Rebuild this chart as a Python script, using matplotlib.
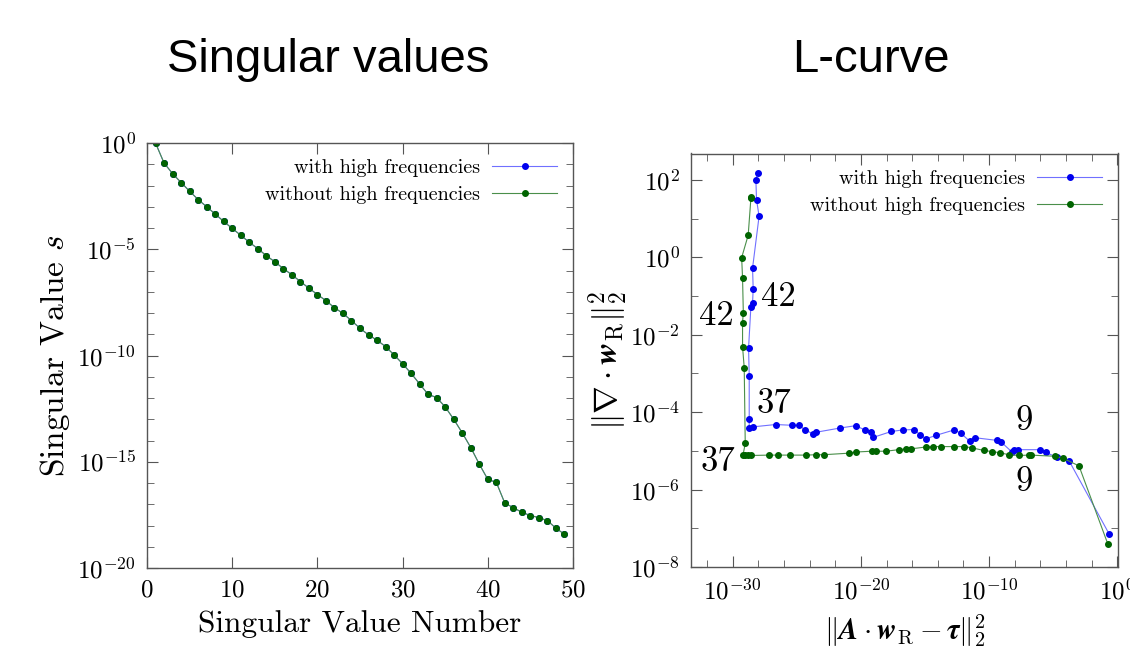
import numpy as np
import matplotlib
matplotlib.use("Agg")
import matplotlib.pyplot as plt
from matplotlib.ticker import FixedLocator, NullFormatter

plt.rcParams['mathtext.fontset'] = 'cm'
plt.rcParams['font.family'] = ['cmr10', 'DejaVu Serif']
plt.rcParams['axes.formatter.use_mathtext'] = True

# singular values, log10 of s for n = 1..49
sv_number = np.arange(1, 50)
log_sv = [0.0, -0.94, -1.44, -1.86, -2.27, -2.66, -3.0, -3.34, -3.69, -4.02,
          -4.34, -4.67, -4.97, -5.30, -5.59, -5.91, -6.20, -6.52, -6.83, -7.13,
          -7.42, -7.75, -8.02, -8.36, -8.72, -9.03, -9.28, -9.58, -9.97, -10.39,
          -10.84, -11.34, -11.83, -11.98, -12.42, -13.0, -13.64, -14.33, -15.11, -15.83,
          -15.97, -16.95, -17.16, -17.38, -17.53, -17.63, -17.77, -18.13, -18.41]
sv_with = 10.0 ** np.array(log_sv)
sv_without = 10.0 ** np.array(log_sv)

# L-curve, log10 residual norm (x) and log10 regularisation norm (y)
lx_with = [-0.62, -3.76, -4.74, -5.59, -6.03, -7.76, -8.04, -8.22, -9.07, -9.38,
           -11.13, -11.52, -12.22, -12.73, -14.15, -14.92, -15.39, -15.88, -16.73, -17.63,
           -19.02, -19.23, -19.69, -20.41, -21.62, -23.5, -23.76, -24.33, -24.85, -25.36,
           -26.65, -28.4, -28.71, -28.71, -28.71, -28.76, -28.58, -28.45, -28.40, -28.45,
           -27.94, -28.14, -28.19, -28.06]
ly_with = [-7.16, -5.26, -5.16, -5.04, -4.97, -4.97, -4.99, -5.03, -4.77, -4.73,
           -4.66, -4.75, -4.54, -4.46, -4.60, -4.69, -4.58, -4.45, -4.46, -4.50,
           -4.65, -4.52, -4.46, -4.35, -4.41, -4.52, -4.56, -4.46, -4.34, -4.34,
           -4.32, -4.38, -4.41, -4.19, -3.06, -2.34, -1.28, -1.19, -0.81, -0.28,
           1.06, 1.49, 2.0, 2.17]

lx_without = [-0.75, -2.99, -4.23, -4.87, -6.75, -6.91, -7.66, -8.48, -9.12, -9.77,
              -10.41, -11.37, -11.96, -12.73, -13.76, -14.4, -14.92, -16.13, -16.5, -17.06,
              -18.07, -18.84, -19.17, -20.4, -20.93, -22.9, -23.5, -24.25, -25.54, -26.44,
              -27.16, -28.6, -28.8, -29.0, -29.2, -29.02, -29.1, -29.23, -29.23, -29.17,
              -29.23, -29.30, -28.79, -28.58, -28.6]
ly_without = [-7.40, -5.39, -5.19, -5.14, -5.11, -5.11, -5.12, -5.10, -5.05, -5.02,
              -4.99, -4.92, -4.89, -4.89, -4.89, -4.89, -4.90, -4.95, -4.95, -4.97,
              -5.01, -5.01, -5.01, -5.03, -5.06, -5.10, -5.10, -5.11, -5.11, -5.11,
              -5.11, -5.12, -5.12, -5.12, -5.12, -4.81, -2.85, -2.31, -1.69, -1.43,
              -0.53, -0.01, 0.57, 1.52, 1.55]

labels = ["with high frequencies", "without high frequencies"]

blue_line = '#7070ff'
blue_mark = '#0000ee'
green_line = '#4a8f4a'
green_mark = '#006400'
frame = '#555555'

fig = plt.figure(figsize=(11.3, 6.67), dpi=100)

fig.text(328 / 1130, 1 - 60 / 667, "Singular values", ha='center', va='center',
         fontsize=34, family='Liberation Sans')
fig.text(871 / 1130, 1 - 60 / 667, "L-curve", ha='center', va='center',
         fontsize=34, family='Liberation Sans')


def style(ax):
    for s in ax.spines.values():
        s.set_color(frame)
        s.set_linewidth(1.0)
    ax.tick_params(which='both', direction='in', top=True, right=True, color=frame,
                   labelsize=18, pad=8)
    ax.tick_params(which='major', length=8)
    ax.tick_params(which='minor', length=5)


# ---- singular values
ax1 = fig.add_axes([147 / 1130, 1 - 568 / 667, 426 / 1130, 425 / 667])
ax1.semilogy(sv_number, sv_with, '-o', color=blue_line, mfc=blue_mark, mec=blue_mark,
             lw=0.8, ms=4, label=labels[0])
ax1.semilogy(sv_number, sv_without, '-o', color=green_line, mfc=green_mark, mec=green_mark,
             lw=0.8, ms=4, label=labels[1])
ax1.set_xlim(0, 50)
ax1.set_ylim(1e-20, 1e0)
ax1.set_xticks([0, 10, 20, 30, 40, 50])
ax1.yaxis.set_major_locator(FixedLocator([1e0, 1e-5, 1e-10, 1e-15, 1e-20]))
ax1.yaxis.set_minor_locator(FixedLocator([10.0 ** -k for k in range(21)]))
ax1.yaxis.set_minor_formatter(NullFormatter())
style(ax1)
ax1.set_xlabel("Singular Value Number", fontsize=22.5, labelpad=6)
ax1.set_ylabel("Singular Value $s$", fontsize=24, labelpad=4)
ax1.legend(loc='upper right', frameon=False, markerfirst=False, fontsize=14.5,
           handlelength=3.2, handletextpad=0.6, borderaxespad=0.4, labelspacing=0.45)

# ---- L-curve
ax2 = fig.add_axes([691 / 1130, 1 - 567 / 667, 427 / 1130, 413.5 / 667])
ax2.loglog(10.0 ** np.array(lx_with), 10.0 ** np.array(ly_with), '-o', color=blue_line,
           mfc=blue_mark, mec=blue_mark, lw=0.8, ms=4, label=labels[0])
ax2.loglog(10.0 ** np.array(lx_without), 10.0 ** np.array(ly_without), '-o', color=green_line,
           mfc=green_mark, mec=green_mark, lw=0.8, ms=4, label=labels[1])
ax2.set_xlim(10 ** -33.25, 10 ** 0.05)
ax2.set_ylim(1e-8, 10 ** 2.68)
ax2.xaxis.set_major_locator(FixedLocator([1e-30, 1e-20, 1e-10, 1e0]))
ax2.xaxis.set_minor_locator(FixedLocator([10.0 ** -k for k in range(0, 34, 2)]))
ax2.xaxis.set_minor_formatter(NullFormatter())
ax2.yaxis.set_major_locator(FixedLocator([10.0 ** k for k in range(-8, 3, 2)]))
ax2.yaxis.set_minor_locator(FixedLocator([10.0 ** k for k in range(-8, 3)]))
ax2.yaxis.set_minor_formatter(NullFormatter())
style(ax2)
ax2.set_xlabel(r"$\|\boldsymbol{A}\cdot\boldsymbol{w}_{\mathrm{R}}-\boldsymbol{\tau}\|_2^2$",
               fontsize=21, labelpad=6)
ax2.set_ylabel(r"$\|\boldsymbol{\nabla}\cdot\boldsymbol{w}_{\mathrm{R}}\|_2^2$",
               fontsize=24, labelpad=0)
ax2.legend(loc='upper right', frameon=False, markerfirst=False, fontsize=14.5,
           handlelength=3.2, handletextpad=0.6, borderaxespad=0.4, labelspacing=0.45)

for txt, lx, ly in [("42", -26.47, -1.03), ("42", -31.26, -1.51),
                    ("37", -26.78, -3.80), ("37", -31.18, -5.28),
                    ("9", -7.25, -4.24), ("9", -7.25, -5.80)]:
    ax2.text(10 ** lx, 10 ** ly, txt, ha='center', va='center', fontsize=25)

fig.savefig("out.png", dpi=100)
